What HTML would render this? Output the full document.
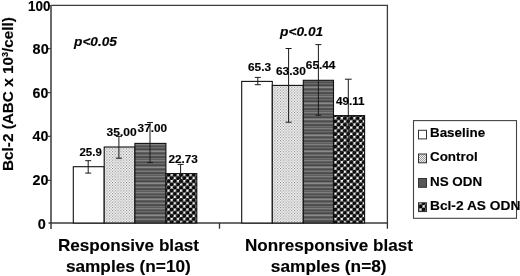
<!DOCTYPE html>
<html><head><meta charset="utf-8">
<style>
html,body{margin:0;padding:0;background:#fff;}
body{width:520px;height:276px;overflow:hidden;}
svg{display:block;will-change:transform;filter:blur(0.3px);}
text{font-family:"Liberation Sans",sans-serif;font-weight:bold;fill:#000;stroke:#000;stroke-width:0.15px;}
</style></head>
<body>
<svg width="520" height="276" viewBox="0 0 520 276">
<defs>
  <pattern id="pDot" width="2.8" height="2.8" patternUnits="userSpaceOnUse">
    <rect width="2.8" height="2.8" fill="#fff"/>
    <rect x="0" y="0" width="1.1" height="1.1" fill="#7c7c7c"/>
    <rect x="1.4" y="1.4" width="1.1" height="1.1" fill="#7c7c7c"/>
  </pattern>
  <pattern id="pDotL" width="2" height="2" patternUnits="userSpaceOnUse">
    <rect width="2" height="2" fill="#f4f4f4"/>
    <rect x="0" y="0" width="1" height="1" fill="#999"/>
    <rect x="1" y="1" width="1" height="1" fill="#999"/>
  </pattern>
  <pattern id="pHoriz" width="31" height="16" patternUnits="userSpaceOnUse"><rect y="0" width="31" height="1" fill="#7e7e7e"/><rect y="1" width="31" height="1" fill="#626262"/><rect y="2" width="31" height="1" fill="#4e4e4e"/><rect y="3" width="31" height="1" fill="#6c6c6c"/><rect y="4" width="31" height="1" fill="#565656"/><rect y="5" width="31" height="1" fill="#484848"/><rect y="6" width="31" height="1" fill="#727272"/><rect y="7" width="31" height="1" fill="#8a8a8a"/><rect y="8" width="31" height="1" fill="#5c5c5c"/><rect y="9" width="31" height="1" fill="#4c4c4c"/><rect y="10" width="31" height="1" fill="#666666"/><rect y="11" width="31" height="1" fill="#7a7a7a"/><rect y="12" width="31" height="1" fill="#525252"/><rect y="13" width="31" height="1" fill="#4a4a4a"/><rect y="14" width="31" height="1" fill="#707070"/><rect y="15" width="31" height="1" fill="#5e5e5e"/></pattern>
  <pattern id="pBall" width="6.3" height="6.3" patternUnits="userSpaceOnUse">
    <rect width="6.3" height="6.3" fill="#fff"/>
    <circle cx="1.575" cy="1.575" r="2.08" fill="#000"/>
    <circle cx="4.725" cy="4.725" r="2.08" fill="#000"/>
    <circle cx="1.575" cy="1.575" r="2.08" fill="#000" transform="translate(6.3,0)"/>
    <circle cx="1.575" cy="1.575" r="2.08" fill="#000" transform="translate(0,6.3)"/>
    <circle cx="4.725" cy="4.725" r="2.08" fill="#000" transform="translate(-6.3,0)"/>
    <circle cx="4.725" cy="4.725" r="2.08" fill="#000" transform="translate(0,-6.3)"/>
    <circle cx="1.2" cy="1.2" r="0.6" fill="#3a3a3a"/>
    <circle cx="4.35" cy="4.35" r="0.6" fill="#3a3a3a"/>
  </pattern>
</defs>

<!-- plot frame -->
<g fill="none" stroke-linecap="square">
  <path d="M51.5 5.4 H387.4 V223" stroke="#3c3c3c" stroke-width="1.3"/>
  <path d="M51 5 V229" stroke="#5a5a5a" stroke-width="1.8" stroke-linecap="butt"/>
  <path d="M48.5 223 H387.4" stroke="#3a3a3a" stroke-width="1.6" stroke-linecap="butt"/>
  <path d="M48 5.5 H51 M48 48.6 H51 M48 92.7 H51 M48 136.4 H51 M48 180.4 H51" stroke="#444" stroke-width="1.2" stroke-linecap="butt"/>
  <path d="M219.5 223 V228.8 M387.4 223 V228.8" stroke="#333" stroke-width="1.3" stroke-linecap="butt"/>
</g>

<!-- y tick labels -->
<g font-size="14">
  <text x="28.07" y="10.8" textLength="22.42" lengthAdjust="spacingAndGlyphs">100</text>
  <text x="32.64" y="53.6" textLength="16.05" lengthAdjust="spacingAndGlyphs">80</text>
  <text x="32.64" y="98" textLength="15.74" lengthAdjust="spacingAndGlyphs">60</text>
  <text x="32.55" y="140.7" textLength="15.82" lengthAdjust="spacingAndGlyphs">40</text>
  <text x="32.4" y="185" textLength="16" lengthAdjust="spacingAndGlyphs">20</text>
  <text x="37.8" y="228.5" textLength="8.04" lengthAdjust="spacingAndGlyphs">0</text>
</g>

<!-- y axis title -->
<text font-size="15.3" transform="translate(12.9,171) rotate(-90)">Bcl-2 (ABC x 10<tspan font-size="9" dy="-5">3</tspan><tspan dy="5">/cell)</tspan></text>

<!-- bars -->
<g stroke="#111" stroke-width="1.1">
  <rect x="73.3" y="166.7" width="30.9" height="56.3" fill="#fff"/>
  <rect x="104.2" y="147.0" width="30.7" height="76.0" fill="url(#pDot)"/>
  <rect x="134.9" y="143.4" width="31.0" height="79.6" fill="url(#pHoriz)"/>
  <rect x="165.9" y="173.6" width="30.9" height="49.4" fill="url(#pBall)"/>
  <rect x="241.7" y="81.4" width="30.6" height="141.6" fill="#fff"/>
  <rect x="272.3" y="85.4" width="31.0" height="137.6" fill="url(#pDot)"/>
  <rect x="303.3" y="80.3" width="30.2" height="142.7" fill="url(#pHoriz)"/>
  <rect x="333.5" y="115.6" width="31.1" height="107.4" fill="url(#pBall)"/>
</g>

<!-- error bars -->
<g stroke="#1a1a1a" stroke-width="1" fill="none">
  <path d="M88.2 160.7 V173.1 M85.2 160.7 H91.2 M85.2 173.1 H91.2"/>
  <path d="M118.9 136.4 V158.2 M115.9 136.4 H121.9 M115.9 158.2 H121.9"/>
  <path d="M150 122.5 V162.6 M147.0 122.5 H153.0 M147.0 162.6 H153.0"/>
  <path d="M180.6 164.4 V183.5 M177.6 164.4 H183.6"/>
  <path d="M257.8 77.4 V84.7 M254.8 77.4 H260.8 M254.8 84.7 H260.8"/>
  <path d="M288.6 48.5 V122.2 M285.6 48.5 H291.6 M285.6 122.2 H291.6"/>
  <path d="M318.4 44.6 V115.2 M315.4 44.6 H321.4 M315.4 115.2 H321.4"/>
  <path d="M348.3 79.2 V152 M344.9 79.2 H351.7"/>
</g>

<!-- value labels -->
<g font-size="11">
  <text x="79.5" y="155.7" textLength="22.3" lengthAdjust="spacingAndGlyphs">25.9</text>
  <text x="106.5" y="135.9" textLength="30.1" lengthAdjust="spacingAndGlyphs">35.00</text>
  <text x="137.6" y="131.5" textLength="29.5" lengthAdjust="spacingAndGlyphs">37.00</text>
  <text x="168.4" y="162.8" textLength="29.5" lengthAdjust="spacingAndGlyphs">22.73</text>
  <text x="248" y="70.5" textLength="23.06" lengthAdjust="spacingAndGlyphs">65.3</text>
  <text x="276" y="74.5" textLength="29.8" lengthAdjust="spacingAndGlyphs">63.30</text>
  <text x="305.8" y="69.2" textLength="29.65" lengthAdjust="spacingAndGlyphs">65.44</text>
  <text x="336" y="105" textLength="28.55" lengthAdjust="spacingAndGlyphs">49.11</text>
</g>

<!-- p values -->
<g font-size="13.5" font-style="italic">
  <text x="74.05" y="46.3" textLength="42.9" lengthAdjust="spacingAndGlyphs">p&lt;0.05</text>
  <text x="280" y="36.3" textLength="43.17" lengthAdjust="spacingAndGlyphs">p&lt;0.01</text>
</g>

<!-- category labels -->
<g font-size="17" text-anchor="middle">
  <text x="128.42" y="250.9" textLength="141" lengthAdjust="spacingAndGlyphs">Responsive blast</text>
  <text x="128.36" y="271.5" textLength="124.9" lengthAdjust="spacingAndGlyphs">samples (n=10)</text>
  <text x="328.98" y="250.9" textLength="167.9" lengthAdjust="spacingAndGlyphs">Nonresponsive blast</text>
  <text x="328.74" y="271.5" textLength="115.8" lengthAdjust="spacingAndGlyphs">samples (n=8)</text>
</g>

<!-- legend -->
<rect x="413.5" y="120.6" width="103" height="97.7" fill="none" stroke="#444" stroke-width="1.1"/>
<g stroke="#333" stroke-width="1">
  <rect x="418.5" y="130.3" width="8" height="8.6" fill="#fff"/>
  <rect x="418.5" y="154" width="8" height="8.8" fill="url(#pDotL)"/>
  <rect x="418.5" y="178.5" width="8" height="8.8" fill="#585858"/>
  <rect x="418.5" y="202.8" width="8" height="8.8" fill="url(#pBall)"/>
</g>
<g font-size="13.4">
  <text x="430" y="137.4">Baseline</text>
  <text x="430" y="161.3">Control</text>
  <text x="430" y="185.9">NS ODN</text>
  <text x="430" y="210.2" textLength="90.3" lengthAdjust="spacingAndGlyphs">Bcl-2 AS ODN</text>
</g>
</svg>
</body></html>
